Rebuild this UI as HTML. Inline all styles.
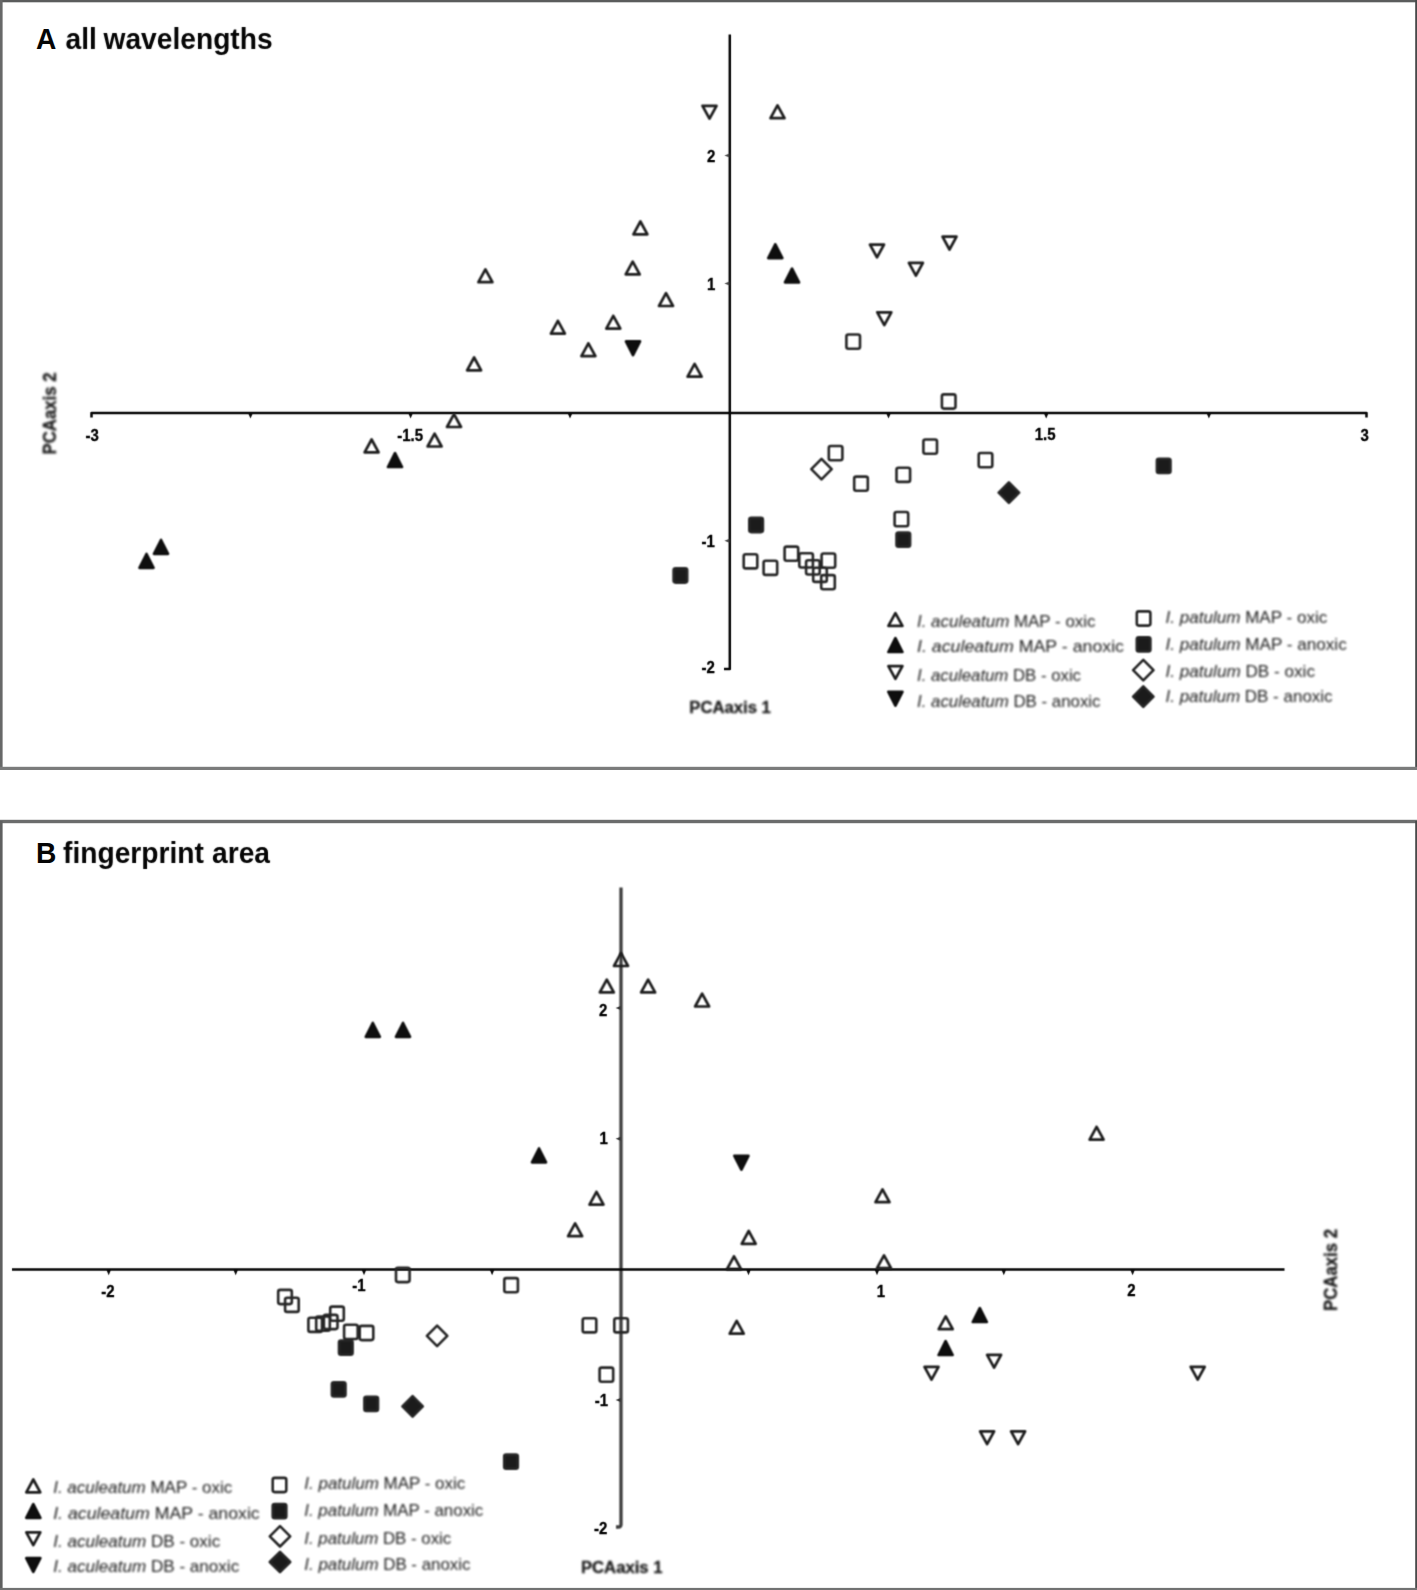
<!DOCTYPE html>
<html lang="en">
<head>
<meta charset="utf-8">
<title>PCA plots</title>
<style>
html,body{margin:0;padding:0;background:#fff;}
body{width:1417px;height:1590px;overflow:hidden;}
svg{display:block;}
text{font-family:"Liberation Sans",sans-serif;}
.title{font-weight:bold;font-size:28.2px;fill:#050505;}
.tick{font-weight:bold;font-size:15px;fill:#000;stroke:#000;stroke-width:0.3px;}
.axl{font-weight:bold;font-size:16px;fill:#1c1c1c;stroke:#1c1c1c;stroke-width:0.3px;}
.leg{font-size:17px;fill:#1a1a1a;}
.leg .it{font-style:italic;}
.mk path,.mk rect{stroke:#262626;stroke-width:2.6;stroke-linejoin:round;}
.mk .t{stroke-width:2.7;stroke:#1e1e1e;}
.mk .f{stroke:#0e0e0e;}
</style>
</head>
<body>
<svg width="1417" height="1590" viewBox="0 0 1417 1590">
<defs>
<filter id="soft" filterUnits="userSpaceOnUse" x="0" y="0" width="1417" height="1590" color-interpolation-filters="sRGB"><feConvolveMatrix order="3" kernelMatrix="0.0625 0.125 0.0625 0.125 0.25 0.125 0.0625 0.125 0.0625" edgeMode="none" preserveAlpha="false"/></filter>
<filter id="soft2" filterUnits="userSpaceOnUse" x="0" y="0" width="1417" height="1590" color-interpolation-filters="sRGB"><feGaussianBlur stdDeviation="0.8"/></filter>
<filter id="soft3" filterUnits="userSpaceOnUse" x="0" y="0" width="1417" height="1590" color-interpolation-filters="sRGB"><feConvolveMatrix order="3" kernelMatrix="0.0144 0.0912 0.0144 0.0912 0.5776 0.0912 0.0144 0.0912 0.0144" edgeMode="none" preserveAlpha="false"/></filter>
<filter id="soft4" filterUnits="userSpaceOnUse" x="0" y="0" width="1417" height="1590" color-interpolation-filters="sRGB"><feGaussianBlur stdDeviation="0.8"/></filter>
</defs>
<rect x="0" y="0" width="1417" height="1590" fill="#ffffff"/>
<!-- panel A frame -->
<g>
<rect x="0" y="0" width="1417" height="2.3" fill="#5b5c5c"/>
<rect x="0" y="0" width="2.6" height="769" fill="#676868"/>
<rect x="1415.2" y="0" width="1.8" height="769" fill="#484949"/>
<rect x="0" y="766.8" width="1417" height="3.2" fill="#7b7c7c"/>
</g>
<!-- panel B frame -->
<g>
<rect x="0" y="819.8" width="1417" height="3.4" fill="#6b6c6c"/>
<rect x="0" y="821" width="2.6" height="769" fill="#5f6060"/>
<rect x="1415.2" y="821" width="1.8" height="769" fill="#494a4a"/>
<rect x="0" y="1587.9" width="1417" height="2.1" fill="#717272"/>
</g>
<!-- panel titles -->
<text class="title" transform="translate(0 48.6) scale(1 1.04)" x="36" y="0">A</text>
<g filter="url(#soft3)"><text class="title" transform="translate(0 48.6) scale(1 1.04)" y="0"><tspan x="65.5">all </tspan><tspan x="103.5">wavelengths</tspan></text></g>
<text class="title" transform="translate(0 863.1) scale(1 1.04)" x="36" y="0">B</text>
<g filter="url(#soft3)"><text class="title" transform="translate(0 863.1) scale(1 1.04)" y="0"><tspan x="63">fingerprint </tspan><tspan x="212">area</tspan></text></g>
<!-- ===== Panel A ===== -->
<g filter="url(#soft3)">
<path d="M91.5 417.5 L91.5 413 L1366.5 413 L1366.5 417.5" fill="none" stroke="#050505" stroke-width="2.5" stroke-linejoin="round"/>
<path d="M729.8 34.5 L729.8 669 L724 669" fill="none" stroke="#050505" stroke-width="2.5" stroke-linejoin="round"/>
<g fill="#0a0a0a"><path d="M248.3 413.5 L252.7 413.5 L250.5 418.6 Z"/><path d="M408.4 413.5 L412.8 413.5 L410.6 418.6 Z"/><path d="M567.8 413.5 L572.2 413.5 L570.0 418.6 Z"/><path d="M886.3 413.5 L890.7 413.5 L888.5 418.6 Z"/><path d="M1044.0 413.5 L1048.4 413.5 L1046.2 418.6 Z"/><path d="M1206.7 413.5 L1211.1 413.5 L1208.9 418.6 Z"/></g>
<g fill="#444"><path d="M729.5 153.6 L729.5 157.6 L724.4 155.6 Z"/><path d="M729.5 281.5 L729.5 285.5 L724.4 283.5 Z"/><path d="M729.5 538.8 L729.5 542.8 L724.4 540.8 Z"/></g>
</g>
<g filter="url(#soft3)">
<g class="tick"><text transform="translate(92.2 440.6) scale(1 1.06)" text-anchor="middle">-3</text><text transform="translate(410.2 440.6) scale(1 1.06)" text-anchor="middle">-1.5</text><text transform="translate(1045.2 440.3) scale(1 1.06)" text-anchor="middle">1.5</text><text transform="translate(1364.6 440.6) scale(1 1.06)" text-anchor="middle">3</text><text transform="translate(715.3 162.3) scale(1 1.06)" text-anchor="end">2</text><text transform="translate(715.3 290) scale(1 1.06)" text-anchor="end">1</text><text transform="translate(714.8 547.2) scale(1 1.06)" text-anchor="end">-1</text><text transform="translate(714.8 673.3) scale(1 1.06)" text-anchor="end">-2</text></g>
</g>
<g filter="url(#soft4)">
<text class="axl" x="689.3" y="712.6" textLength="81.6" lengthAdjust="spacingAndGlyphs">PCAaxis 1</text>
<text class="axl" transform="translate(55.6 454.5) rotate(-90) scale(1 1.17)" textLength="82" lengthAdjust="spacingAndGlyphs">PCAaxis 2</text>
</g>
<g class="mk" filter="url(#soft)">
<path class="t" d="M777.5 105.4 L770.5 118.2 L784.5 118.2 Z" fill="none"/>
<path class="t" d="M640.4 221.5 L633.4 234.3 L647.4 234.3 Z" fill="none"/>
<path class="t" d="M485.4 269.4 L478.4 282.2 L492.4 282.2 Z" fill="none"/>
<path class="t" d="M632.7 261.6 L625.7 274.4 L639.7 274.4 Z" fill="none"/>
<path class="t" d="M666.0 293.2 L659.0 306.0 L673.0 306.0 Z" fill="none"/>
<path class="t" d="M613.3 315.8 L606.3 328.6 L620.3 328.6 Z" fill="none"/>
<path class="t" d="M557.9 320.8 L550.9 333.6 L564.9 333.6 Z" fill="none"/>
<path class="t" d="M588.4 343.3 L581.4 356.1 L595.4 356.1 Z" fill="none"/>
<path class="t" d="M474.1 357.5 L467.1 370.3 L481.1 370.3 Z" fill="none"/>
<path class="t" d="M694.6 363.9 L687.6 376.7 L701.6 376.7 Z" fill="none"/>
<path class="t" d="M454.0 414.2 L447.0 427.0 L461.0 427.0 Z" fill="none"/>
<path class="t" d="M434.6 433.7 L427.6 446.5 L441.6 446.5 Z" fill="none"/>
<path class="t" d="M371.6 439.5 L364.6 452.3 L378.6 452.3 Z" fill="none"/>
<path class="t f" d="M775.3 244.3 L768.3 258.1 L782.3 258.1 Z" fill="#0e0e0e"/>
<path class="t f" d="M792.0 268.6 L785.0 282.4 L799.0 282.4 Z" fill="#0e0e0e"/>
<path class="t f" d="M395.0 453.2 L388.0 467.0 L402.0 467.0 Z" fill="#0e0e0e"/>
<path class="t f" d="M161.0 540.0 L154.0 553.8 L168.0 553.8 Z" fill="#0e0e0e"/>
<path class="t f" d="M146.5 554.0 L139.5 567.8 L153.5 567.8 Z" fill="#0e0e0e"/>
<path class="t" d="M709.5 118.6 L702.5 105.8 L716.5 105.8 Z" fill="none"/>
<path class="t" d="M877.0 257.4 L870.0 244.6 L884.0 244.6 Z" fill="none"/>
<path class="t" d="M949.5 249.5 L942.5 236.7 L956.5 236.7 Z" fill="none"/>
<path class="t" d="M915.9 275.7 L908.9 262.9 L922.9 262.9 Z" fill="none"/>
<path class="t" d="M884.3 325.1 L877.3 312.3 L891.3 312.3 Z" fill="none"/>
<path class="t f" d="M633.0 355.2 L626.0 341.4 L640.0 341.4 Z" fill="#0e0e0e"/>
<rect x="846.4" y="334.5" width="13.6" height="14.2" rx="2" fill="none"/>
<rect x="941.9" y="394.4" width="13.6" height="14.2" rx="2" fill="none"/>
<rect x="828.8" y="446.0" width="13.6" height="14.2" rx="2" fill="none"/>
<rect x="923.4" y="439.5" width="13.6" height="14.2" rx="2" fill="none"/>
<rect x="978.7" y="453.0" width="13.6" height="14.2" rx="2" fill="none"/>
<rect x="896.5" y="467.7" width="13.6" height="14.2" rx="2" fill="none"/>
<rect x="854.2" y="476.6" width="13.6" height="14.2" rx="2" fill="none"/>
<rect x="894.6" y="512.0" width="13.6" height="14.2" rx="2" fill="none"/>
<rect x="743.7" y="554.2" width="13.6" height="14.2" rx="2" fill="none"/>
<rect x="763.6" y="560.7" width="13.6" height="14.2" rx="2" fill="none"/>
<rect x="784.6" y="546.6" width="13.6" height="14.2" rx="2" fill="none"/>
<rect x="799.3" y="553.3" width="13.6" height="14.2" rx="2" fill="none"/>
<rect x="806.1" y="560.3" width="13.6" height="14.2" rx="2" fill="none"/>
<rect x="813.2" y="567.7" width="13.6" height="14.2" rx="2" fill="none"/>
<rect x="821.6" y="553.5" width="13.6" height="14.2" rx="2" fill="none"/>
<rect x="821.2" y="575.1" width="13.6" height="14.2" rx="2" fill="none"/>
<rect x="1156.9" y="458.8" width="13.6" height="14.2" rx="2" fill="#1b1b1b"/>
<rect x="749.3" y="517.9" width="13.6" height="14.2" rx="2" fill="#1b1b1b"/>
<rect x="896.5" y="532.6" width="13.6" height="14.2" rx="2" fill="#1b1b1b"/>
<rect x="673.6" y="568.4" width="13.6" height="14.2" rx="2" fill="#1b1b1b"/>
<path d="M821.5 458.9 L831.7 469.1 L821.5 479.3 L811.3 469.1 Z" fill="none"/>
<path d="M1008.9 482.5 L1019.1 492.7 L1008.9 502.9 L998.7 492.7 Z" fill="#1b1b1b"/>
<!-- legend symbols -->
<path class="t" d="M895.4 613.1 L888.4 625.9 L902.4 625.9 Z" fill="none"/><path class="t f" d="M895.4 638.2 L888.4 652.0 L902.4 652.0 Z" fill="#0e0e0e"/><path class="t" d="M895.4 678.9 L888.4 666.1 L902.4 666.1 Z" fill="none"/><path class="t f" d="M895.4 705.6 L888.4 691.8 L902.4 691.8 Z" fill="#0e0e0e"/>
<rect x="1136.8" y="611.4" width="13.6" height="14.2" rx="2" fill="none"/><rect x="1136.8" y="637.3" width="13.6" height="14.2" rx="2" fill="#1b1b1b"/><path d="M1143.3 659.9 L1153.5 670.1 L1143.3 680.3 L1133.1 670.1 Z" fill="none"/><path d="M1143.3 686.4 L1153.5 696.6 L1143.3 706.8 L1133.1 696.6 Z" fill="#1b1b1b"/>
</g>
<g filter="url(#soft2)">
<text class="leg" x="917" y="626.5" textLength="178.5" lengthAdjust="spacingAndGlyphs"><tspan class="it">I. aculeatum</tspan> MAP - oxic</text>
<text class="leg" x="917" y="652" textLength="207" lengthAdjust="spacingAndGlyphs"><tspan class="it">I. aculeatum</tspan> MAP - anoxic</text>
<text class="leg" x="917" y="680.6" textLength="164" lengthAdjust="spacingAndGlyphs"><tspan class="it">I. aculeatum</tspan> DB - oxic</text>
<text class="leg" x="917" y="707.2" textLength="183.5" lengthAdjust="spacingAndGlyphs"><tspan class="it">I. aculeatum</tspan> DB - anoxic</text>
<text class="leg" x="1165.5" y="623.3" textLength="161.8" lengthAdjust="spacingAndGlyphs"><tspan class="it">I. patulum</tspan> MAP - oxic</text>
<text class="leg" x="1165.5" y="649.5" textLength="181.2" lengthAdjust="spacingAndGlyphs"><tspan class="it">I. patulum</tspan> MAP - anoxic</text>
<text class="leg" x="1165.5" y="676.7" textLength="149.5" lengthAdjust="spacingAndGlyphs"><tspan class="it">I. patulum</tspan> DB - oxic</text>
<text class="leg" x="1165.5" y="702.3" textLength="167.1" lengthAdjust="spacingAndGlyphs"><tspan class="it">I. patulum</tspan> DB - anoxic</text>
</g>
<!-- ===== Panel B ===== -->
<g filter="url(#soft)">
<path d="M621 887.5 L621 1524.5 Q621 1527 618.5 1527 L616 1527" fill="none" stroke="#3e3e3e" stroke-width="3.3"/>
</g>
<g filter="url(#soft3)">
<path d="M12 1269.5 L1284.5 1269.5" fill="none" stroke="#050505" stroke-width="2.5"/>
<g fill="#0a0a0a"><path d="M106.5 1270 L110.9 1270 L108.7 1275.2 Z"/><path d="M233.5 1270 L237.9 1270 L235.7 1275.2 Z"/><path d="M361.8 1270 L366.2 1270 L364.0 1275.2 Z"/><path d="M489.9 1270 L494.3 1270 L492.1 1275.2 Z"/><path d="M746.3 1270 L750.7 1270 L748.5 1275.2 Z"/><path d="M874.8 1270 L879.2 1270 L877.0 1275.2 Z"/><path d="M1001.6 1270 L1006.0 1270 L1003.8 1275.2 Z"/><path d="M1130.4 1270 L1134.8 1270 L1132.6 1275.2 Z"/></g>
<g fill="#303030"><path d="M620.7 1006.0 L620.7 1010.0 L615.6 1008.0 Z"/><path d="M620.7 1136.7 L620.7 1140.7 L615.6 1138.7 Z"/><path d="M620.7 1397.9 L620.7 1401.9 L615.6 1399.9 Z"/></g>
</g>
<g filter="url(#soft3)">
<g class="tick"><text transform="translate(108 1296.8) scale(1 1.06)" text-anchor="middle">-2</text><text transform="translate(359 1291) scale(1 1.06)" text-anchor="middle">-1</text><text transform="translate(881 1296.6) scale(1 1.06)" text-anchor="middle">1</text><text transform="translate(1131.3 1296.3) scale(1 1.06)" text-anchor="middle">2</text><text transform="translate(607.3 1016) scale(1 1.06)" text-anchor="end">2</text><text transform="translate(607.8 1144.3) scale(1 1.06)" text-anchor="end">1</text><text transform="translate(608 1406.3) scale(1 1.06)" text-anchor="end">-1</text><text transform="translate(607.3 1533.8) scale(1 1.06)" text-anchor="end">-2</text></g>
</g>
<g filter="url(#soft4)">
<text class="axl" x="581" y="1572.6" textLength="81.4" lengthAdjust="spacingAndGlyphs">PCAaxis 1</text>
<text class="axl" transform="translate(1336.6 1311) rotate(-90) scale(1 1.17)" textLength="82" lengthAdjust="spacingAndGlyphs">PCAaxis 2</text>
</g>
<g class="mk" filter="url(#soft)">
<path class="t" d="M621.0 953.2 L614.0 966.0 L628.0 966.0 Z" fill="none"/>
<path class="t" d="M606.8 979.6 L599.8 992.4 L613.8 992.4 Z" fill="none"/>
<path class="t" d="M648.1 979.6 L641.1 992.4 L655.1 992.4 Z" fill="none"/>
<path class="t" d="M702.1 993.7 L695.1 1006.5 L709.1 1006.5 Z" fill="none"/>
<path class="t" d="M596.5 1191.8 L589.5 1204.6 L603.5 1204.6 Z" fill="none"/>
<path class="t" d="M575.1 1223.4 L568.1 1236.2 L582.1 1236.2 Z" fill="none"/>
<path class="t" d="M882.5 1189.4 L875.5 1202.2 L889.5 1202.2 Z" fill="none"/>
<path class="t" d="M748.7 1231.0 L741.7 1243.8 L755.7 1243.8 Z" fill="none"/>
<path class="t" d="M734.0 1256.3 L727.0 1269.1 L741.0 1269.1 Z" fill="none"/>
<path class="t" d="M884.0 1255.4 L877.0 1268.2 L891.0 1268.2 Z" fill="none"/>
<path class="t" d="M1096.6 1126.8 L1089.6 1139.6 L1103.6 1139.6 Z" fill="none"/>
<path class="t" d="M945.7 1316.4 L938.7 1329.2 L952.7 1329.2 Z" fill="none"/>
<path class="t" d="M736.7 1320.9 L729.7 1333.7 L743.7 1333.7 Z" fill="none"/>
<path class="t f" d="M372.8 1023.0 L365.8 1036.8 L379.8 1036.8 Z" fill="#0e0e0e"/>
<path class="t f" d="M403.0 1023.0 L396.0 1036.8 L410.0 1036.8 Z" fill="#0e0e0e"/>
<path class="t f" d="M539.0 1148.5 L532.0 1162.3 L546.0 1162.3 Z" fill="#0e0e0e"/>
<path class="t f" d="M979.8 1308.2 L972.8 1322.0 L986.8 1322.0 Z" fill="#0e0e0e"/>
<path class="t f" d="M945.6 1341.2 L938.6 1355.0 L952.6 1355.0 Z" fill="#0e0e0e"/>
<path class="t" d="M994.1 1367.7 L987.1 1354.9 L1001.1 1354.9 Z" fill="none"/>
<path class="t" d="M931.5 1379.7 L924.5 1366.9 L938.5 1366.9 Z" fill="none"/>
<path class="t" d="M987.1 1444.2 L980.1 1431.4 L994.1 1431.4 Z" fill="none"/>
<path class="t" d="M1018.1 1444.2 L1011.1 1431.4 L1025.1 1431.4 Z" fill="none"/>
<path class="t" d="M1197.7 1379.6 L1190.7 1366.8 L1204.7 1366.8 Z" fill="none"/>
<path class="t f" d="M741.4 1169.6 L734.4 1155.8 L748.4 1155.8 Z" fill="#0e0e0e"/>
<rect x="396.0" y="1267.9" width="13.6" height="14.2" rx="2" fill="none"/>
<rect x="504.3" y="1278.1" width="13.6" height="14.2" rx="2" fill="none"/>
<rect x="278.2" y="1289.9" width="13.6" height="14.2" rx="2" fill="none"/>
<rect x="285.1" y="1297.7" width="13.6" height="14.2" rx="2" fill="none"/>
<rect x="330.2" y="1306.6" width="13.6" height="14.2" rx="2" fill="none"/>
<rect x="308.4" y="1317.7" width="13.6" height="14.2" rx="2" fill="none"/>
<rect x="316.2" y="1316.5" width="13.6" height="14.2" rx="2" fill="none"/>
<rect x="323.9" y="1314.9" width="13.6" height="14.2" rx="2" fill="none"/>
<rect x="344.1" y="1324.8" width="13.6" height="14.2" rx="2" fill="none"/>
<rect x="359.7" y="1325.9" width="13.6" height="14.2" rx="2" fill="none"/>
<rect x="582.7" y="1318.2" width="13.6" height="14.2" rx="2" fill="none"/>
<rect x="614.3" y="1318.2" width="13.6" height="14.2" rx="2" fill="none"/>
<rect x="599.6" y="1367.6" width="13.6" height="14.2" rx="2" fill="none"/>
<rect x="339.0" y="1340.5" width="13.6" height="14.2" rx="2" fill="#1b1b1b"/>
<rect x="331.9" y="1382.3" width="13.6" height="14.2" rx="2" fill="#1b1b1b"/>
<rect x="364.4" y="1396.8" width="13.6" height="14.2" rx="2" fill="#1b1b1b"/>
<rect x="504.2" y="1454.6" width="13.6" height="14.2" rx="2" fill="#1b1b1b"/>
<path d="M437.1 1325.7 L447.3 1335.9 L437.1 1346.1 L426.9 1335.9 Z" fill="none"/>
<path d="M412.6 1396.2 L422.8 1406.4 L412.6 1416.6 L402.4 1406.4 Z" fill="#1b1b1b"/>
<!-- legend symbols -->
<path class="t" d="M33.3 1479.5 L26.3 1492.3 L40.3 1492.3 Z" fill="none"/><path class="t f" d="M33.3 1504.1 L26.3 1517.9 L40.3 1517.9 Z" fill="#0e0e0e"/><path class="t" d="M33.3 1545.2 L26.3 1532.4 L40.3 1532.4 Z" fill="none"/><path class="t f" d="M33.3 1571.9 L26.3 1558.1 L40.3 1558.1 Z" fill="#0e0e0e"/>
<rect x="272.7" y="1477.9" width="13.6" height="14.2" rx="2" fill="none"/><rect x="272.7" y="1504.0" width="13.6" height="14.2" rx="2" fill="#1b1b1b"/><path d="M280.0 1526.1 L290.2 1536.3 L280.0 1546.5 L269.8 1536.3 Z" fill="none"/><path d="M280.0 1551.8 L290.2 1562.0 L280.0 1572.2 L269.8 1562.0 Z" fill="#1b1b1b"/>
</g>
<g filter="url(#soft2)">
<text class="leg" x="53.2" y="1493.4" textLength="179" lengthAdjust="spacingAndGlyphs"><tspan class="it">I. aculeatum</tspan> MAP - oxic</text>
<text class="leg" x="53.2" y="1518.6" textLength="206.5" lengthAdjust="spacingAndGlyphs"><tspan class="it">I. aculeatum</tspan> MAP - anoxic</text>
<text class="leg" x="53.2" y="1546.8" textLength="167" lengthAdjust="spacingAndGlyphs"><tspan class="it">I. aculeatum</tspan> DB - oxic</text>
<text class="leg" x="53.2" y="1572.4" textLength="186" lengthAdjust="spacingAndGlyphs"><tspan class="it">I. aculeatum</tspan> DB - anoxic</text>
<text class="leg" x="304.3" y="1488.8" textLength="161" lengthAdjust="spacingAndGlyphs"><tspan class="it">I. patulum</tspan> MAP - oxic</text>
<text class="leg" x="304.3" y="1516.2" textLength="179" lengthAdjust="spacingAndGlyphs"><tspan class="it">I. patulum</tspan> MAP - anoxic</text>
<text class="leg" x="304.3" y="1543.5" textLength="147" lengthAdjust="spacingAndGlyphs"><tspan class="it">I. patulum</tspan> DB - oxic</text>
<text class="leg" x="304.3" y="1570" textLength="166.2" lengthAdjust="spacingAndGlyphs"><tspan class="it">I. patulum</tspan> DB - anoxic</text>
</g>
</svg>
</body>
</html>
